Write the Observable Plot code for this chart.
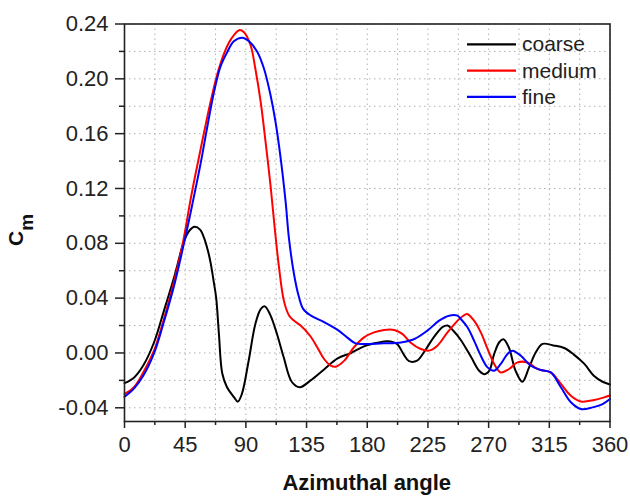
<!DOCTYPE html>
<html>
<head>
<meta charset="utf-8">
<script src="https://cdn.jsdelivr.net/npm/d3@7"></script>
<script src="https://cdn.jsdelivr.net/npm/@observablehq/plot@0.6"></script>
<style>
  html, body { margin: 0; padding: 0; background: #fff; }
  #chart { width: 630px; height: 496px; }
</style>
</head>
<body>
<div id="chart"></div>
<script>
// ---- data ----
const seriesNames = ["coarse", "medium", "fine"];
const seriesColors = ["#000000", "#ff0000", "#0000ff"];

const coarseAngle = [0, 7, 14, 22, 29, 37, 44, 48, 52, 56, 59, 62, 64, 66, 68, 70, 72.5, 76, 81, 84, 87, 92, 97, 101, 104, 108, 113, 118, 124, 130, 138, 148, 158, 168, 178, 188, 195, 202, 207, 211, 217, 223, 229, 236, 239.5, 244, 249, 257, 263, 267, 270.5, 274, 278, 281, 285, 290, 295, 300, 305, 310, 318, 326, 333, 341, 348, 354.5, 360];
const coarseCm = [-0.022, -0.018, -0.009, 0.008, 0.030, 0.056, 0.081, 0.089, 0.092, 0.090, 0.084, 0.074, 0.065, 0.053, 0.040, 0.014, -0.015, -0.025, -0.032, -0.0355, -0.030, -0.006, 0.021, 0.032, 0.034, 0.028, 0.014, -0.003, -0.021, -0.025, -0.020, -0.012, -0.004, 0.000, 0.005, 0.0075, 0.0085, 0.0066, -0.001, -0.006, -0.0056, 0.002, 0.011, 0.019, 0.020, 0.016, 0.010, -0.003, -0.013, -0.0155, -0.013, -0.001, 0.008, 0.010, 0.004, -0.013, -0.021, -0.0105, 0.0005, 0.0066, 0.0055, 0.0036, -0.001, -0.008, -0.0166, -0.021, -0.023];

const mediumAngle = [0, 7, 14, 22, 29, 37, 44, 49, 54, 59, 64, 69, 74, 79, 85, 88.6, 93.5, 97, 101, 104.6, 108.3, 111.3, 114.5, 118.2, 122, 125.6, 130.6, 138, 143, 148, 153, 156.6, 163, 170, 177.6, 185, 192.4, 200, 206, 212, 219.7, 225.8, 232, 239.5, 247, 251, 254, 259.2, 264.2, 269.2, 274.1, 279, 285.2, 291.4, 298.8, 306.3, 316.1, 323.6, 331, 338.4, 348.3, 355.7, 360];
const mediumCm = [-0.030, -0.025, -0.014, 0.002, 0.024, 0.053, 0.084, 0.112, 0.137, 0.161, 0.184, 0.204, 0.219, 0.229, 0.2355, 0.234, 0.2245, 0.2075, 0.183, 0.154, 0.122, 0.092, 0.063, 0.038, 0.0274, 0.0236, 0.020, 0.012, 0.004, -0.0044, -0.0093, -0.010, -0.0056, 0.004, 0.0114, 0.015, 0.0168, 0.0168, 0.0139, 0.0077, 0.0029, 0.0017, 0.0053, 0.015, 0.0236, 0.027, 0.0285, 0.0236, 0.015, 0.003, -0.008, -0.0142, -0.0117, -0.0069, -0.0069, -0.0117, -0.0142, -0.0226, -0.0312, -0.0354, -0.0343, -0.0324, -0.031];

const fineAngle = [0, 7, 14, 22, 29, 37, 45, 50.2, 56.4, 61.4, 66.3, 71.2, 76.2, 81.1, 87.3, 92.3, 98.5, 103.4, 108.3, 112, 115.8, 119.5, 121.9, 125.6, 129.3, 132.6, 138, 148, 158, 165, 171.4, 180, 192, 205, 215, 224.6, 233.3, 240.7, 246.9, 249.4, 254.3, 259.2, 264.2, 269.2, 274.1, 279, 284, 287.7, 293.9, 301.3, 308.7, 316.1, 323.6, 331, 338.4, 347.1, 354.5, 360];
const fineCm = [-0.032, -0.026, -0.0165, 0.000, 0.022, 0.050, 0.084, 0.108, 0.138, 0.165, 0.190, 0.209, 0.2196, 0.2274, 0.230, 0.2274, 0.2196, 0.2075, 0.188, 0.1685, 0.142, 0.110, 0.084, 0.058, 0.041, 0.032, 0.0274, 0.0225, 0.0168, 0.0114, 0.007, 0.0066, 0.007, 0.0077, 0.0102, 0.0163, 0.0236, 0.0272, 0.0272, 0.0248, 0.0187, 0.009, -0.002, -0.0105, -0.0129, -0.008, -0.0007, 0.0017, -0.002, -0.0093, -0.0124, -0.0142, -0.025, -0.036, -0.0409, -0.0397, -0.0373, -0.0336];

const xMajorTicks = [0, 45, 90, 135, 180, 225, 270, 315, 360];
const xMinorTicks = [22.5, 67.5, 112.5, 157.5, 202.5, 247.5, 292.5, 337.5];
const yMajorTicks = [-0.04, 0.00, 0.04, 0.08, 0.12, 0.16, 0.20, 0.24];
const yMinorTicks = [-0.02, 0.02, 0.06, 0.10, 0.14, 0.18, 0.22];
const xTitle = "Azimuthal angle";
const yTitleMain = "C";
const yTitleSub = "m";

// ---- build table ----
const rows = [];
[[coarseAngle, coarseCm], [mediumAngle, mediumCm], [fineAngle, fineCm]].forEach(([a, c], i) => {
  a.forEach((v, j) => rows.push({series: seriesNames[i], angle: v, cm: c[j]}));
});

const font = "'Liberation Sans', Arial, Helvetica, sans-serif";
const W = 630, H = 496;
const mL = 124, mR = 20.5, mT = 23.5, mB = 75;

const chart = Plot.plot({
  width: W, height: H,
  marginLeft: mL, marginRight: mR, marginTop: mT, marginBottom: mB,
  style: {fontFamily: font, fontSize: "22px", color: "#222", background: "#fff", overflow: "visible"},
  x: {domain: [0, 360]},
  y: {domain: [-0.05, 0.24]},
  color: {domain: seriesNames, range: seriesColors},
  marks: [
    Plot.gridX([...xMajorTicks, ...xMinorTicks], {stroke: "#b0b0b0", strokeOpacity: 1, strokeDasharray: "1.5,3.5", strokeWidth: 1}),
    Plot.gridY([...yMajorTicks, ...yMinorTicks], {stroke: "#b0b0b0", strokeOpacity: 1, strokeDasharray: "1.5,3.5", strokeWidth: 1}),
    Plot.axisX(xMajorTicks, {tickSize: 7, tickPadding: 8, label: null, tickFormat: d => String(d), fontSize: 22, stroke: "#222", strokeWidth: 1.5, fill: "#222"}),
    Plot.axisX(xMinorTicks, {tickSize: 4, text: null, label: null, stroke: "#222", strokeWidth: 1.5}),
    Plot.axisY(yMajorTicks, {tickSize: 9, tickPadding: 7, label: null, tickFormat: d => d.toFixed(2), fontSize: 22, stroke: "#222", strokeWidth: 1.5, fill: "#222"}),
    Plot.axisY(yMinorTicks, {tickSize: 5, text: null, label: null, stroke: "#222", strokeWidth: 1.5}),
    Plot.line(rows, {x: "angle", y: "cm", z: "series", stroke: "series", strokeWidth: 2, curve: "catmull-rom"}),
    Plot.frame({stroke: "#222", strokeWidth: 1.6})
  ]
});

document.getElementById("chart").appendChild(chart);

// ---- titles and legend (layout only) ----
const svg = d3.select(chart);
const plotCX = mL + (W - mL - mR) / 2;

svg.append("text")
  .attr("x", plotCX).attr("y", 490)
  .attr("text-anchor", "middle")
  .attr("font-family", font).attr("font-size", 22).attr("font-weight", "bold")
  .attr("fill", "#111")
  .text(xTitle);

const yt = svg.append("text")
  .attr("transform", "translate(23,230) rotate(-90)")
  .attr("text-anchor", "middle")
  .attr("font-family", font).attr("font-weight", "bold")
  .attr("fill", "#111");
yt.append("tspan").attr("font-size", 21).text(yTitleMain);
yt.append("tspan").attr("font-size", 19).attr("dy", 10).text(yTitleSub);

const lg = svg.append("g");
seriesNames.forEach((name, i) => {
  const y = 44.3 + i * 26.3;
  lg.append("line")
    .attr("x1", 467).attr("x2", 516).attr("y1", y).attr("y2", y)
    .attr("stroke", seriesColors[i]).attr("stroke-width", 2.2);
  lg.append("text")
    .attr("x", 522).attr("y", y + 7)
    .attr("text-anchor", "start")
    .attr("font-family", font).attr("font-size", 21).attr("fill", "#222")
    .text(name);
});
</script>
</body>
</html>
